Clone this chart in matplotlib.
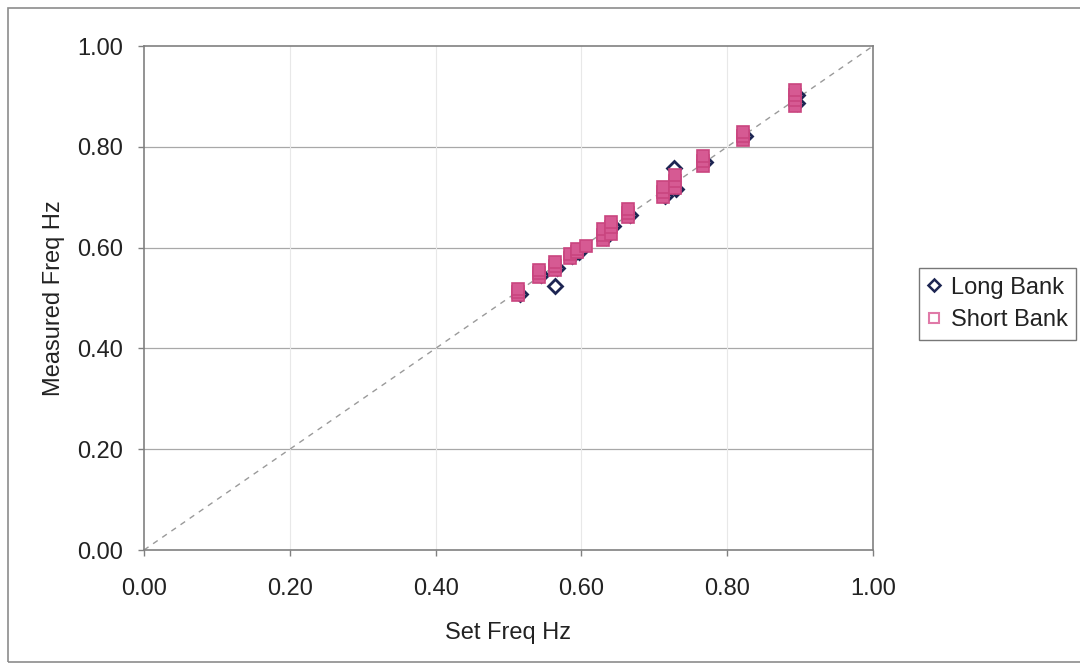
import matplotlib.pyplot as plt
from matplotlib.lines import Line2D
from matplotlib.patches import Rectangle

plt.rcParams['font.family'] = ['Liberation Sans', 'DejaVu Sans']

# Short Bank readings (set freq, measured freq)
short_x = [0.513, 0.513, 0.513,
           0.542, 0.542, 0.542,
           0.564, 0.564, 0.564,
           0.584, 0.584, 0.594, 0.594, 0.607,
           0.630, 0.630, 0.630, 0.640, 0.640, 0.640,
           0.664, 0.664, 0.664,
           0.712, 0.712, 0.712,
           0.728, 0.728, 0.728,
           0.767, 0.767, 0.767,
           0.822, 0.822, 0.822,
           0.893, 0.893, 0.893, 0.893]
short_y = [0.506, 0.512, 0.518,
           0.541, 0.549, 0.556,
           0.556, 0.563, 0.571,
           0.580, 0.587, 0.591, 0.598, 0.604,
           0.616, 0.626, 0.636, 0.628, 0.640, 0.650,
           0.660, 0.668, 0.676,
           0.700, 0.710, 0.720,
           0.718, 0.732, 0.744,
           0.762, 0.772, 0.782,
           0.814, 0.822, 0.830,
           0.882, 0.893, 0.903, 0.912]

# Long Bank readings
long_x = [0.516, 0.545, 0.564, 0.567, 0.587, 0.597, 0.634, 0.643, 0.667,
          0.715, 0.715, 0.730, 0.727, 0.770, 0.825, 0.896, 0.896]
long_y = [0.508, 0.545, 0.524, 0.560, 0.584, 0.592, 0.622, 0.642, 0.664,
          0.703, 0.714, 0.716, 0.757, 0.770, 0.822, 0.886, 0.902]

ticks = [0.0, 0.2, 0.4, 0.6, 0.8, 1.0]
tick_labels = ['0.00', '0.20', '0.40', '0.60', '0.80', '1.00']

pink = '#C9457F'
pink_face = '#D65A93'
navy = '#1D2552'

fig = plt.figure(figsize=(10.8, 6.71), dpi=100)
ax = fig.add_axes([0.1333, 0.1803, 0.675, 0.7511])

# chart area border
fig.patches.append(Rectangle((0.007, 0.013), 1.1, 0.975, transform=fig.transFigure,
                             fill=False, edgecolor='#8C8C8C', linewidth=1.2))

ax.set_xlim(0, 1)
ax.set_ylim(0, 1)
for y in ticks[1:-1]:
    ax.axhline(y, color='#A8A8A8', linewidth=0.9, zorder=0)
for x in ticks[1:-1]:
    ax.axvline(x, color='#E8E8E8', linewidth=0.8, zorder=0)

ax.plot([0, 1], [0, 1], color='#9A9A9A', linestyle=(0, (4, 4)), linewidth=1.0, zorder=1)

ax.plot(long_x, long_y, linestyle='none', marker='D', markersize=7,
        markerfacecolor='none', markeredgecolor=navy, markeredgewidth=2.0, zorder=2)
ax.plot(short_x, short_y, linestyle='none', marker='s', markersize=8,
        markerfacecolor=pink_face, markeredgecolor=pink, markeredgewidth=1.2, zorder=3)

ax.set_xticks(ticks)
ax.set_xticklabels(tick_labels)
ax.set_yticks(ticks)
ax.set_yticklabels(tick_labels)
ax.tick_params(axis='both', direction='out', length=4, width=1, color='#808080',
               labelsize=17, labelcolor='#222222')
ax.tick_params(axis='x', pad=16)
ax.tick_params(axis='y', pad=11)
for s in ax.spines.values():
    s.set_color('#808080')
    s.set_linewidth(1.2)

ax.set_xlabel('Set Freq Hz', fontsize=17, color='#222222', labelpad=16)
ax.set_ylabel('Measured Freq Hz', fontsize=17, color='#222222', labelpad=9)

handles = [Line2D([], [], linestyle='none', marker='D', markersize=6, markerfacecolor='none',
                  markeredgecolor=navy, markeredgewidth=1.8),
           Line2D([], [], linestyle='none', marker='s', markersize=7, markerfacecolor='none',
                  markeredgecolor='#E07AA8', markeredgewidth=1.5)]
leg = fig.legend(handles, ['Long Bank', 'Short Bank'], loc='upper left',
                 bbox_to_anchor=(0.851, 0.60), fontsize=17, frameon=True, fancybox=False,
                 handlelength=0.6, handletextpad=0.4, borderpad=0.35, labelspacing=0.45,
                 borderaxespad=0)
leg.get_frame().set_edgecolor('#555555')
leg.get_frame().set_linewidth(1.0)
for t in leg.get_texts():
    t.set_color('#222222')

fig.savefig('out.png', dpi=100)
